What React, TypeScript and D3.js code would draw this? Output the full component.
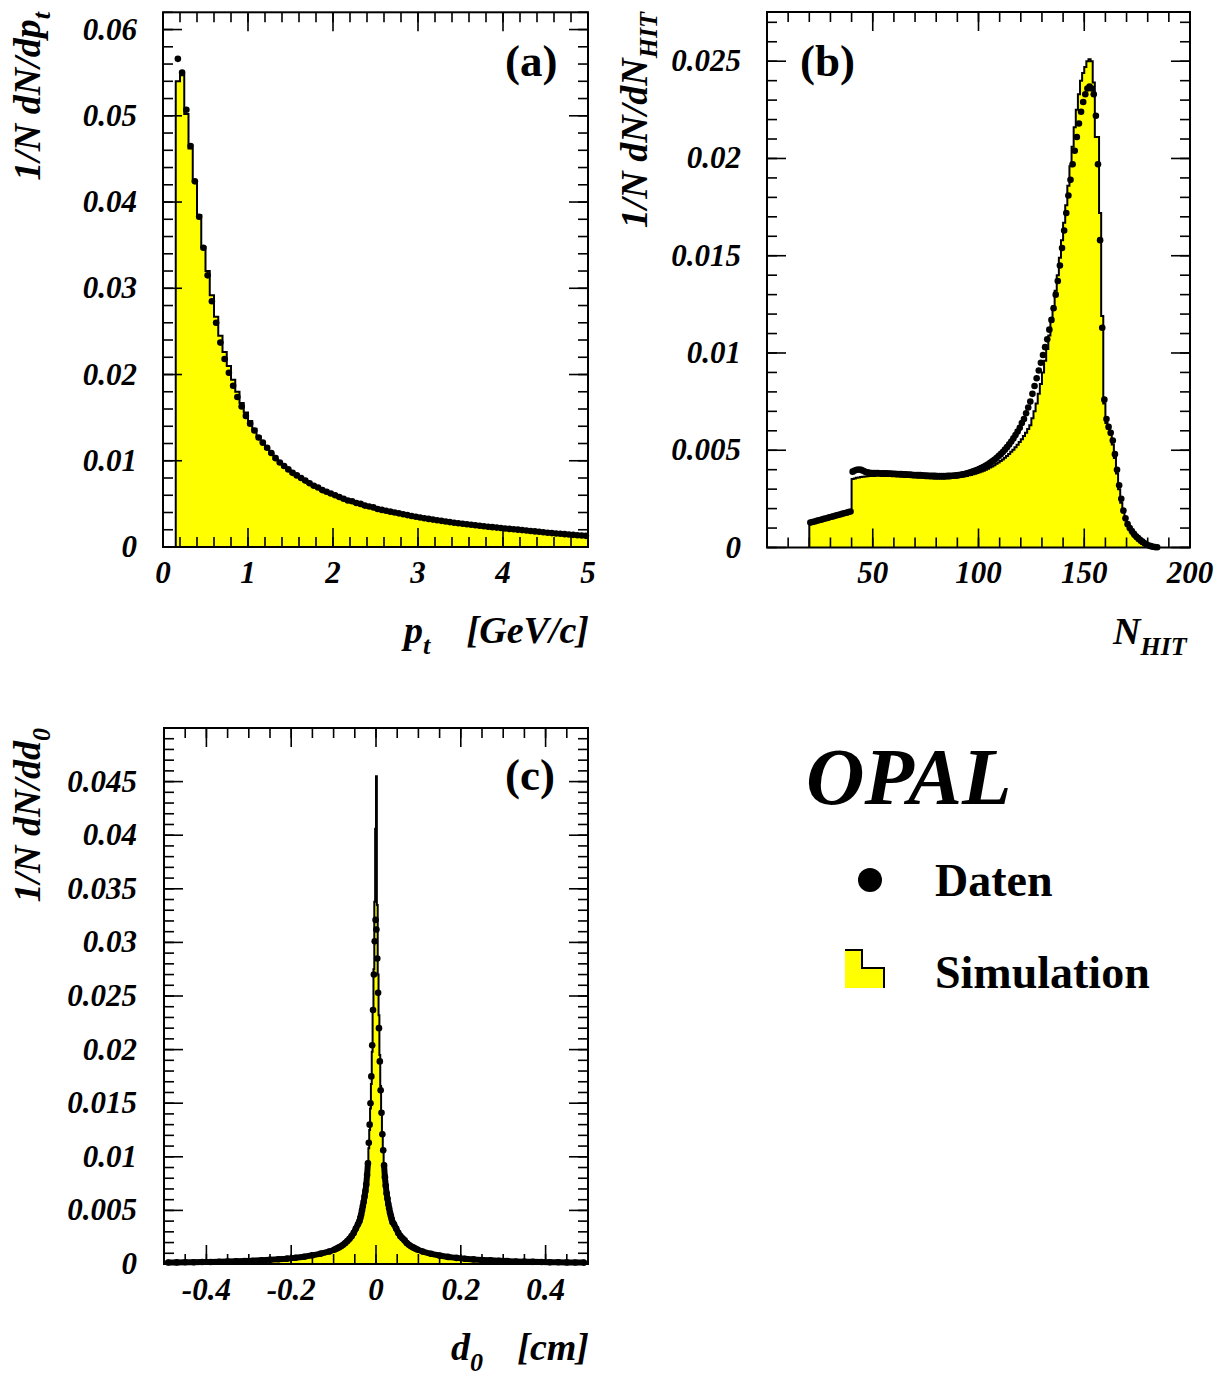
import React from 'react';
import * as d3 from 'd3';

const FONT = '"Liberation Serif", "Times New Roman", Times, serif';

// ---------- Panel (a): p_t, bins of 0.05 GeV/c starting at 0.15 ----------
const A_START = 0.15;
const A_WIDTH = 0.05;
const A_SIM = [
  0.0540, 0.0547, 0.0502, 0.0462, 0.0424, 0.0385, 0.0348, 0.0320, 0.0292, 0.0267,
  0.0245, 0.0226, 0.0210, 0.0194, 0.0180, 0.0167, 0.0156, 0.0146, 0.0137, 0.0128,
  0.0121, 0.0114, 0.0108, 0.0102, 0.0097, 0.0093, 0.0089, 0.0085, 0.0082, 0.0079,
  0.0076, 0.0073, 0.0070, 0.0068, 0.0065, 0.0063, 0.0061, 0.0059, 0.0057, 0.0055,
  0.0053, 0.0052, 0.0050, 0.0049, 0.0047, 0.0046, 0.0045, 0.0043, 0.0042, 0.0041,
  0.0040, 0.0039, 0.0038, 0.0037, 0.0036, 0.0035, 0.00342, 0.00334, 0.00326, 0.00318,
  0.0031, 0.00303, 0.00296, 0.00289, 0.00282, 0.00276, 0.0027, 0.00264, 0.00258, 0.00252,
  0.00246, 0.0024, 0.00235, 0.0023, 0.00225, 0.0022, 0.00215, 0.0021, 0.00206, 0.00202,
  0.00197, 0.00192, 0.00187, 0.00182, 0.00177, 0.00172, 0.00167, 0.00162, 0.00158, 0.00154,
  0.0015, 0.00146, 0.00142, 0.00138, 0.00134, 0.0013, 0.00126,
];
const A_DATA = [
  0.0566, 0.0550, 0.0507, 0.0465, 0.0424, 0.0383, 0.0347, 0.0315, 0.0285, 0.0260,
  0.0237, 0.0218, 0.0202, 0.0187, 0.0174, 0.0163, 0.0152, 0.0143, 0.0135, 0.0127,
  0.0121, 0.0115, 0.0109, 0.0103, 0.0098, 0.0094, 0.0090, 0.0086, 0.0083, 0.0080,
  0.0077, 0.0074, 0.0071, 0.0069, 0.0066, 0.0064, 0.0062, 0.0060, 0.0058, 0.0056,
  0.0054, 0.0053, 0.0051, 0.0050, 0.0048, 0.0047, 0.0046, 0.0044, 0.0043, 0.0042,
  0.0041, 0.0040, 0.0039, 0.0038, 0.0037, 0.0036, 0.0035, 0.00342, 0.00334, 0.00326,
  0.00318, 0.0031, 0.00303, 0.00296, 0.00289, 0.00282, 0.00276, 0.0027, 0.00264, 0.00258,
  0.00252, 0.00246, 0.0024, 0.00235, 0.0023, 0.00225, 0.0022, 0.00215, 0.0021, 0.00206,
  0.00201, 0.00196, 0.00191, 0.00186, 0.00181, 0.00176, 0.00171, 0.00166, 0.00161, 0.00157,
  0.00153, 0.00149, 0.00145, 0.00141, 0.00137, 0.00133, 0.00129,
];
const A_XTICKS = [0, 1, 2, 3, 4, 5];
const A_XLABELS = ['0', '1', '2', '3', '4', '5'];
const A_YTICKS = [0, 0.01, 0.02, 0.03, 0.04, 0.05, 0.06];
const A_YLABELS = ['0', '0.01', '0.02', '0.03', '0.04', '0.05', '0.06'];

// ---------- Panel (b): N_HIT, bins of 1 hit ----------
const B_SIM_START = 20;
const B_SIM = [
  0.00122, 0.00125, 0.00128, 0.00131, 0.00134, 0.00137, 0.00140, 0.00142, 0.00145, 0.00148,
  0.00151, 0.00154, 0.00157, 0.00160, 0.00163, 0.00166, 0.00169, 0.00172, 0.00175, 0.00178,
  0.00352, 0.00355, 0.00358, 0.00360, 0.00362, 0.00364, 0.00365, 0.00366, 0.00367, 0.00368,
  0.00368, 0.00369, 0.00369, 0.00369, 0.00368, 0.00368, 0.00368, 0.00367, 0.00367, 0.00366,
  0.00366, 0.00365, 0.00365, 0.00364, 0.00364, 0.00363, 0.00362, 0.00362, 0.00361, 0.00360,
  0.00360, 0.00359, 0.00358, 0.00358, 0.00357, 0.00356, 0.00356, 0.00355, 0.00355, 0.00354,
  0.00354, 0.00354, 0.00354, 0.00354, 0.00355, 0.00355, 0.00356, 0.00357, 0.00358, 0.00359,
  0.00361, 0.00362, 0.00364, 0.00366, 0.00368, 0.00371, 0.00373, 0.00376, 0.00379, 0.00383,
  0.00387, 0.00391, 0.00395, 0.00400, 0.00405, 0.00411, 0.00417, 0.00423, 0.00430, 0.00437,
  0.00445, 0.00453, 0.00462, 0.00471, 0.00481, 0.00492, 0.00503, 0.00515, 0.00528, 0.00542,
  0.00557, 0.00573, 0.00590, 0.00609, 0.00629, 0.00665, 0.00700, 0.00740, 0.00790, 0.00840,
  0.0090, 0.0096, 0.0102, 0.0109, 0.0116, 0.0124, 0.0132, 0.0140, 0.0149, 0.0158,
  0.0167, 0.0176, 0.0186, 0.0196, 0.0206, 0.0216, 0.0225, 0.0233, 0.0240, 0.0244,
  0.0247, 0.0250, 0.0251, 0.0250, 0.0239, 0.0211, 0.0211, 0.0172, 0.0119, 0.0074,
  0.0064, 0.0061, 0.0058, 0.0053, 0.0046, 0.0038, 0.0030, 0.0023, 0.0018, 0.0014,
  0.0011, 0.0009, 0.00072, 0.00057, 0.00045, 0.00035, 0.00026, 0.00018, 0.00012, 0.00007,
  0.00004, 0.00002,
];
const B_DATA_START = 20;
const B_DATA = [
  0.00128, 0.00131, 0.00134, 0.00137, 0.00140, 0.00143, 0.00146, 0.00149, 0.00152, 0.00155,
  0.00158, 0.00161, 0.00164, 0.00167, 0.00170, 0.00173, 0.00176, 0.00179, 0.00182, 0.00185,
  0.00390, 0.00396, 0.00400, 0.00401, 0.00399, 0.00394, 0.00389, 0.00386, 0.00384, 0.00383,
  0.00383, 0.00383, 0.00383, 0.00382, 0.00382, 0.00381, 0.00381, 0.00380, 0.00380, 0.00379,
  0.00379, 0.00378, 0.00378, 0.00377, 0.00376, 0.00376, 0.00375, 0.00375, 0.00374, 0.00373,
  0.00373, 0.00372, 0.00372, 0.00371, 0.00370, 0.00370, 0.00369, 0.00369, 0.00368, 0.00368,
  0.00367, 0.00367, 0.00367, 0.00367, 0.00367, 0.00368, 0.00368, 0.00369, 0.00370, 0.00371,
  0.00372, 0.00374, 0.00376, 0.00378, 0.00381, 0.00384, 0.00388, 0.00392, 0.00396, 0.00400,
  0.00405, 0.00410, 0.00415, 0.00421, 0.00428, 0.00435, 0.00443, 0.00451, 0.00460, 0.00470,
  0.00480, 0.00491, 0.00503, 0.00516, 0.00530, 0.00545, 0.00561, 0.00578, 0.00596, 0.00615,
  0.0064, 0.0066, 0.0069, 0.0072, 0.0075, 0.0079, 0.0083, 0.0087, 0.0091, 0.0095,
  0.0099, 0.0103, 0.0107, 0.0112, 0.0117, 0.0123, 0.0130, 0.0137, 0.0145, 0.0154,
  0.0163, 0.0172, 0.0181, 0.0189, 0.0197, 0.0204, 0.0211, 0.0218, 0.0224, 0.0229,
  0.0233, 0.0236, 0.0237, 0.0236, 0.0233, 0.0222, 0.0197, 0.0158, 0.0113, 0.0076,
  0.0066, 0.0062, 0.0059, 0.0055, 0.0048, 0.0040, 0.0032, 0.0025, 0.0019, 0.0015,
  0.0012, 0.0010, 0.00085, 0.0007, 0.00058, 0.00048, 0.00038, 0.0003, 0.00022, 0.00015,
  0.0001, 0.00007, 0.00004, 0.00002, 0.00001,
];
const B_XTICKS = [50, 100, 150, 200];
const B_XLABELS = ['50', '100', '150', '200'];
const B_YTICKS = [0, 0.005, 0.01, 0.015, 0.02, 0.025];
const B_YLABELS = ['0', '0.005', '0.01', '0.015', '0.02', '0.025'];

// ---------- Panel (c): d0, variable binning (coarse tails, fine core) ----------
// segments: [start, width, count]
const C_SEGMENTS: [number, number, number][] = [
  [-0.5, 0.02, 20],
  [-0.1, 0.005, 12],
  [-0.04, 0.002, 40],
  [0.04, 0.005, 12],
  [0.1, 0.02, 20],
];
const C_SIM_L1 = [0.00012, 0.00013, 0.00014, 0.00015, 0.00016, 0.00017, 0.00018, 0.0002, 0.00022, 0.00024, 0.00027, 0.0003, 0.00034, 0.00039, 0.00045, 0.00053, 0.00063, 0.00076, 0.00092, 0.00112];
const C_SIM_L2 = [0.0013, 0.0014, 0.0015, 0.0016, 0.00175, 0.0019, 0.0021, 0.0023, 0.0025, 0.0028, 0.0032, 0.0036];
const C_SIM_CORE = [
  0.0040, 0.0043, 0.0046, 0.0049, 0.0053, 0.0057, 0.0062, 0.0068, 0.0074, 0.0082,
  0.0093, 0.0108, 0.0125, 0.0145, 0.0168, 0.0198, 0.0235, 0.0275, 0.0338, 0.0406,
  0.0455, 0.0335, 0.0270, 0.0232, 0.0195, 0.0166, 0.0142, 0.0123, 0.0107, 0.0093,
  0.0082, 0.0074, 0.0068, 0.0062, 0.0057, 0.0053, 0.0049, 0.0046, 0.0043, 0.0040,
];
const C_SIM_R2 = [0.0036, 0.0032, 0.0028, 0.0025, 0.0023, 0.0021, 0.0019, 0.00175, 0.0016, 0.0015, 0.0014, 0.0013];
const C_SIM_R1 = [0.00112, 0.00092, 0.00076, 0.00063, 0.00053, 0.00045, 0.00039, 0.00034, 0.0003, 0.00027, 0.00024, 0.00022, 0.0002, 0.00018, 0.00017, 0.00016, 0.00015, 0.00014, 0.00013, 0.00012];

const C_DATA_L1 = [0.00014, 0.00015, 0.00016, 0.00017, 0.00018, 0.00019, 0.00021, 0.00023, 0.00025, 0.00028, 0.00031, 0.00035, 0.00039, 0.00044, 0.0005, 0.00058, 0.00068, 0.00081, 0.00097, 0.00117];
const C_DATA_L2 = [0.00135, 0.00145, 0.00155, 0.00165, 0.0018, 0.00195, 0.00215, 0.00235, 0.0026, 0.0029, 0.0033, 0.0037];
const C_DATA_CORE = [
  0.0040, 0.0043, 0.0046, 0.0050, 0.0054, 0.0058, 0.0063, 0.0068, 0.0074, 0.0083,
  0.0094, 0.0113, 0.0130, 0.0150, 0.0175, 0.0204, 0.0237, 0.0270, 0.0301, 0.0321,
  0.0312, 0.0285, 0.0253, 0.0220, 0.0189, 0.0162, 0.0141, 0.0121, 0.0106, 0.0092,
  0.0081, 0.0073, 0.0066, 0.0061, 0.0056, 0.0052, 0.0048, 0.0045, 0.0042, 0.0039,
];
const C_DATA_R2 = [0.0037, 0.0033, 0.0029, 0.0026, 0.0024, 0.0022, 0.00195, 0.0018, 0.00165, 0.00155, 0.00145, 0.00135];
const C_DATA_R1 = [0.00116, 0.00095, 0.00079, 0.00066, 0.00057, 0.00049, 0.00043, 0.00038, 0.00034, 0.0003, 0.00027, 0.00024, 0.00022, 0.0002, 0.00018, 0.00017, 0.00016, 0.00015, 0.00014, 0.00013];

const C_XTICKS = [-0.4, -0.2, 0, 0.2, 0.4];
const C_XLABELS = ['-0.4', '-0.2', '0', '0.2', '0.4'];
const C_YTICKS = [0, 0.005, 0.01, 0.015, 0.02, 0.025, 0.03, 0.035, 0.04, 0.045];
const C_YLABELS = ['0', '0.005', '0.01', '0.015', '0.02', '0.025', '0.03', '0.035', '0.04', '0.045'];

// ---------- helpers ----------
type Scale = d3.ScaleLinear<number, number>;

function stepPath(edges: number[], values: number[], x: Scale, y: Scale) {
  const p = d3.path();
  p.moveTo(x(edges[0]), y(0));
  values.forEach((v, i) => {
    p.lineTo(x(edges[i]), y(v));
    p.lineTo(x(edges[i + 1]), y(v));
  });
  p.lineTo(x(edges[edges.length - 1]), y(0));
  return p.toString();
}

function minorRange(lo: number, step: number, n: number) {
  return d3.range(n + 1).map((i) => lo + step * i);
}

interface FrameProps {
  x: Scale;
  y: Scale;
  xMajor: number[];
  xMinor: number[];
  yMajor: number[];
  yMinor: number[];
  xLabels: { v: number; t: string }[];
  yLabels: { v: number; t: string }[];
  xLabelY: number;
  yLabelX: number;
}

function Frame({ x, y, xMajor, xMinor, yMajor, yMinor, xLabels, yLabels, xLabelY, yLabelX }: FrameProps) {
  const [x0, x1] = x.range();
  const [y0, y1] = y.range(); // y0 bottom, y1 top
  const MJ = 19;
  const MN = 10;
  const lines: JSX.Element[] = [];
  xMinor.forEach((v, i) => {
    const px = x(v);
    lines.push(<line key={'xb' + i} x1={px} x2={px} y1={y0} y2={y0 - MN} />);
    lines.push(<line key={'xt' + i} x1={px} x2={px} y1={y1} y2={y1 + MN} />);
  });
  xMajor.forEach((v, i) => {
    const px = x(v);
    lines.push(<line key={'Xb' + i} x1={px} x2={px} y1={y0} y2={y0 - MJ} />);
    lines.push(<line key={'Xt' + i} x1={px} x2={px} y1={y1} y2={y1 + MJ} />);
  });
  yMinor.forEach((v, i) => {
    const py = y(v);
    lines.push(<line key={'yl' + i} x1={x0} x2={x0 + MN} y1={py} y2={py} />);
    lines.push(<line key={'yr' + i} x1={x1} x2={x1 - MN} y1={py} y2={py} />);
  });
  yMajor.forEach((v, i) => {
    const py = y(v);
    lines.push(<line key={'Yl' + i} x1={x0} x2={x0 + MJ} y1={py} y2={py} />);
    lines.push(<line key={'Yr' + i} x1={x1} x2={x1 - MJ} y1={py} y2={py} />);
  });
  return (
    <g>
      <g stroke="#000" strokeWidth={1.6}>{lines}</g>
      <rect x={x0} y={y1} width={x1 - x0} height={y0 - y1} fill="none" stroke="#000" strokeWidth={2} />
      <g fontFamily={FONT} fontWeight="bold" fontStyle="italic" fontSize={31} fill="#000">
        {xLabels.map((l, i) => (
          <text key={'xl' + i} x={x(l.v)} y={xLabelY} textAnchor="middle">{l.t}</text>
        ))}
        {yLabels.map((l, i) => (
          <text key={'yl' + i} x={yLabelX} y={y(l.v) + 10} textAnchor="end">{l.t}</text>
        ))}
      </g>
    </g>
  );
}

export default function App() {
  // scales
  const xa = d3.scaleLinear().domain([0, 5]).range([163, 588]);
  const ya = d3.scaleLinear().domain([0, 0.062]).range([547, 12.3]);
  const xb = d3.scaleLinear().domain([0, 200]).range([767, 1190]);
  const yb = d3.scaleLinear().domain([0, 0.02753]).range([547.5, 12]);
  const xc = d3.scaleLinear().domain([-0.5, 0.5]).range([164, 588]);
  const yc = d3.scaleLinear().domain([0, 0.05]).range([1264, 728]);

  // (a)
  const aEdges = d3.range(A_SIM.length + 1).map((i) => A_START + A_WIDTH * i);
  const aPath = stepPath(aEdges, A_SIM, xa, ya);
  const aPts = A_DATA.map((v, i) => [A_START + A_WIDTH * (i + 0.5), v]);

  // (b)
  const bEdges = d3.range(B_SIM.length + 1).map((i) => B_SIM_START + i);
  const bPath = stepPath(bEdges, B_SIM, xb, yb);
  const bPts = B_DATA.map((v, i) => [B_DATA_START + i + 0.5, v]);

  // (c)
  const cEdges: number[] = [];
  const cCenters: number[] = [];
  C_SEGMENTS.forEach(([s, w, n]) => {
    for (let i = 0; i < n; i++) {
      cEdges.push(s + w * i);
      cCenters.push(s + w * (i + 0.5));
    }
  });
  cEdges.push(0.5);
  const cSim = [...C_SIM_L1, ...C_SIM_L2, ...C_SIM_CORE, ...C_SIM_R2, ...C_SIM_R1];
  const cData = [...C_DATA_L1, ...C_DATA_L2, ...C_DATA_CORE, ...C_DATA_R2, ...C_DATA_R1];
  const cPath = stepPath(cEdges, cSim, xc, yc);
  const cPts = cData.map((v, i) => [cCenters[i], v]);
  const cLine = d3.line<number[]>().x((d) => xc(d[0])).y((d) => yc(d[1]));
  const cLeft = cPts.filter((d) => d[0] <= -0.018);
  const cRight = cPts.filter((d) => d[0] >= 0.018);

  const R = 3.3;

  return (
    <svg width={1222} height={1376} style={{ position: 'absolute', left: 0, top: 0, background: '#fff' }}>
      <rect x={0} y={0} width={1222} height={1376} fill="#fff" />

      {/* Panel (a) */}
      <path d={aPath} fill="#ffff00" stroke="#000" strokeWidth={2} strokeLinejoin="miter" />
      <g fill="#000">
        {aPts.map((d, i) => (
          <circle key={i} cx={xa(d[0])} cy={ya(d[1])} r={R} />
        ))}
      </g>
      <Frame
        x={xa}
        y={ya}
        xMajor={A_XTICKS}
        xMinor={minorRange(0, 0.2, 25)}
        yMajor={A_YTICKS}
        yMinor={minorRange(0, 0.002, 31)}
        xLabels={A_XTICKS.map((v, i) => ({ v, t: A_XLABELS[i] }))}
        yLabels={A_YTICKS.map((v, i) => ({ v, t: A_YLABELS[i] }))}
        xLabelY={583}
        yLabelX={137}
      />
      <text x={505} y={76} fontFamily={FONT} fontWeight="bold" fontSize={45}>(a)</text>
      <g fontFamily={FONT} fontWeight="bold" fontStyle="italic" fill="#000">
        <text x={404} y={643} fontSize={38}>p<tspan fontSize={26} dy={11}>t</tspan></text>
        <text x={589} y={643} fontSize={38} textAnchor="end">[GeV/c]</text>
        <text transform="translate(40,12) rotate(-90)" textAnchor="end" fontSize={38}>
          1/N dN/dp<tspan fontSize={26} dy={10}>t</tspan>
        </text>
      </g>

      {/* Panel (b) */}
      <path d={bPath} fill="#ffff00" stroke="#000" strokeWidth={2} />
      <g fill="#000">
        {bPts.map((d, i) => (
          <circle key={i} cx={xb(d[0])} cy={yb(d[1])} r={R} />
        ))}
      </g>
      <Frame
        x={xb}
        y={yb}
        xMajor={B_XTICKS}
        xMinor={minorRange(0, 10, 20)}
        yMajor={B_YTICKS}
        yMinor={minorRange(0, 0.001, 27)}
        xLabels={B_XTICKS.map((v, i) => ({ v, t: B_XLABELS[i] }))}
        yLabels={B_YTICKS.map((v, i) => ({ v, t: B_YLABELS[i] }))}
        xLabelY={583}
        yLabelX={741}
      />
      <text x={800} y={76} fontFamily={FONT} fontWeight="bold" fontSize={45}>(b)</text>
      <g fontFamily={FONT} fontWeight="bold" fontStyle="italic" fill="#000">
        <text x={1113} y={644} fontSize={38}>N<tspan fontSize={26} dy={11}>HIT</tspan></text>
        <text transform="translate(647,12) rotate(-90)" textAnchor="end" fontSize={38}>
          1/N dN/dN<tspan fontSize={26} dy={10}>HIT</tspan>
        </text>
      </g>

      {/* Panel (c) */}
      <path d={cPath} fill="#ffff00" stroke="#000" strokeWidth={2} />
      <g fill="none" stroke="#000" strokeWidth={6} strokeLinejoin="round" strokeLinecap="round">
        <path d={cLine(cLeft) || ''} />
        <path d={cLine(cRight) || ''} />
      </g>
      <g fill="#000">
        {cPts.map((d, i) => (
          <circle key={i} cx={xc(d[0])} cy={yc(d[1])} r={R} />
        ))}
      </g>
      <Frame
        x={xc}
        y={yc}
        xMajor={C_XTICKS}
        xMinor={minorRange(-0.5, 0.05, 20)}
        yMajor={C_YTICKS}
        yMinor={minorRange(0, 0.001, 50)}
        xLabels={C_XTICKS.map((v, i) => ({ v, t: C_XLABELS[i] }))}
        yLabels={C_YTICKS.map((v, i) => ({ v, t: C_YLABELS[i] }))}
        xLabelY={1300}
        yLabelX={137}
      />
      <text x={505} y={790} fontFamily={FONT} fontWeight="bold" fontSize={45}>(c)</text>
      <g fontFamily={FONT} fontWeight="bold" fontStyle="italic" fill="#000">
        <text x={451} y={1360} fontSize={38}>d<tspan fontSize={26} dy={11}>0</tspan></text>
        <text x={589} y={1360} fontSize={38} textAnchor="end">[cm]</text>
        <text transform="translate(40,728) rotate(-90)" textAnchor="end" fontSize={38}>
          1/N dN/dd<tspan fontSize={26} dy={10}>0</tspan>
        </text>
      </g>

      {/* OPAL + legend */}
      <text x={806} y={804} fontFamily={FONT} fontWeight="bold" fontStyle="italic" fontSize={81}>OPAL</text>
      <circle cx={870} cy={880} r={12} fill="#000" />
      <text x={935} y={896} fontFamily={FONT} fontWeight="bold" fontSize={46}>Daten</text>
      <path d="M845,950 H862 V968 H884 V988 H845 Z" fill="#ffff00" />
      <path d="M845,950 H862 V968 H884 V988" fill="none" stroke="#000" strokeWidth={2} />
      <text x={935} y={988} fontFamily={FONT} fontWeight="bold" fontSize={46}>Simulation</text>
    </svg>
  );
}
